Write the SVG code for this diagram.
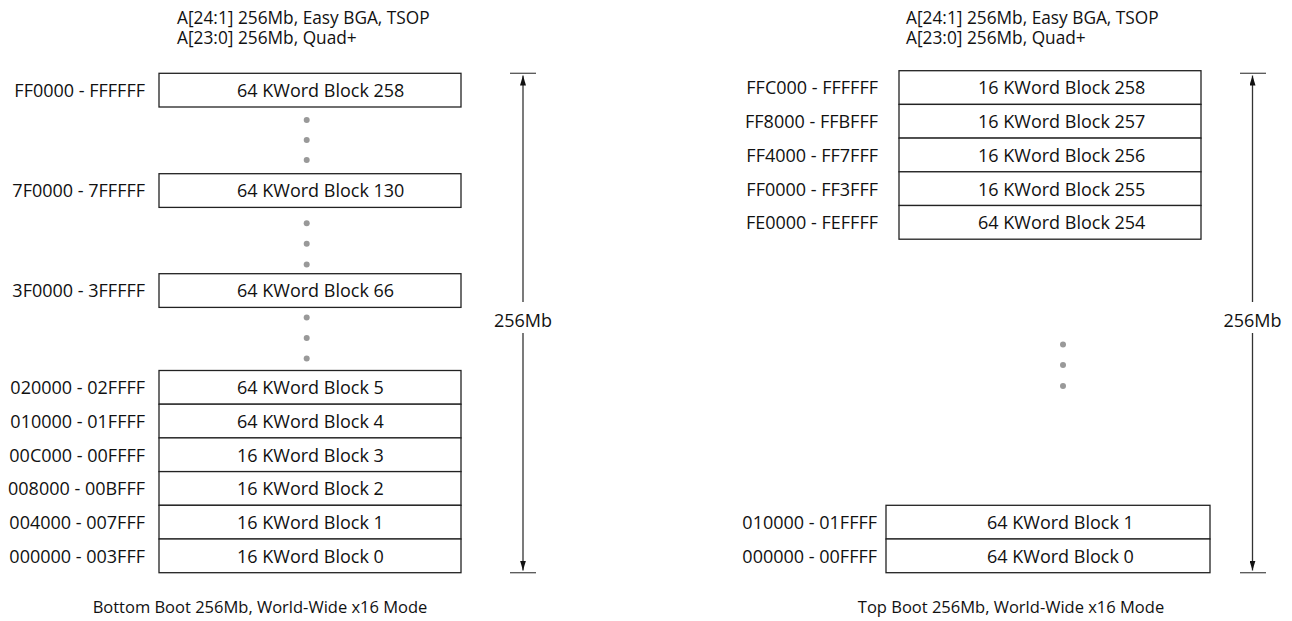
<svg xmlns="http://www.w3.org/2000/svg" width="1292" height="621" viewBox="0 0 1292 621">
<style>
text{font-family:"Open Sans","Noto Sans","DejaVu Sans",sans-serif;font-size:18px;fill:#111}
.addr{text-anchor:end}
.mid{text-anchor:middle}
.hdr{font-size:17.3px}
.cap{font-size:16.5px;text-anchor:middle}
.blk{fill:#fff;stroke:#222;stroke-width:1.3}
.dot{fill:#999}
.dim{stroke:#333;stroke-width:1.3;fill:none}
.tick{stroke:#555;stroke-width:1.3}
</style>
<defs>
<marker id="ah" viewBox="0 0 10 6" refX="10" refY="3" markerWidth="10" markerHeight="6" orient="auto-start-reverse" markerUnits="userSpaceOnUse">
<path d="M0,0 L10,3 L0,6 Z" fill="#111"/>
</marker>
</defs>

<g id="left-header">
<text class="hdr" x="177" y="23.5">A[24:1] 256Mb, Easy BGA, TSOP</text>
<text class="hdr" x="177" y="44">A[23:0] 256Mb, Quad+</text>
</g>
<g id="right-header">
<text class="hdr" x="906" y="23.5">A[24:1] 256Mb, Easy BGA, TSOP</text>
<text class="hdr" x="906" y="44">A[23:0] 256Mb, Quad+</text>
</g>

<g id="L-b258"><rect class="blk" x="159" y="73.3" width="302" height="33.7"/><text class="addr" x="145" y="97">FF0000 - FFFFFF</text><text x="237" y="97">64 KWord Block 258</text></g>
<g id="L-b130"><rect class="blk" x="159" y="173.7" width="302" height="33.7"/><text class="addr" x="145" y="197.3">7F0000 - 7FFFFF</text><text x="237" y="197.3">64 KWord Block 130</text></g>
<g id="L-b66"><rect class="blk" x="159" y="273.7" width="302" height="33.7"/><text class="addr" x="145" y="297.3">3F0000 - 3FFFFF</text><text x="237" y="297.3">64 KWord Block 66</text></g>
<g id="L-b5"><rect class="blk" x="159" y="370.5" width="302" height="33.7"/><text class="addr" x="145" y="394.2">020000 - 02FFFF</text><text x="237" y="394.2">64 KWord Block 5</text></g>
<g id="L-b4"><rect class="blk" x="159" y="404.2" width="302" height="33.7"/><text class="addr" x="145" y="427.9">010000 - 01FFFF</text><text x="237" y="427.9">64 KWord Block 4</text></g>
<g id="L-b3"><rect class="blk" x="159" y="437.9" width="302" height="33.7"/><text class="addr" x="145" y="461.6">00C000 - 00FFFF</text><text x="237" y="461.6">16 KWord Block 3</text></g>
<g id="L-b2"><rect class="blk" x="159" y="471.6" width="302" height="33.7"/><text class="addr" x="145" y="495.3">008000 - 00BFFF</text><text x="237" y="495.3">16 KWord Block 2</text></g>
<g id="L-b1"><rect class="blk" x="159" y="505.3" width="302" height="33.7"/><text class="addr" x="145" y="529">004000 - 007FFF</text><text x="237" y="529">16 KWord Block 1</text></g>
<g id="L-b0"><rect class="blk" x="159" y="539" width="302" height="33.7"/><text class="addr" x="145" y="562.7">000000 - 003FFF</text><text x="237" y="562.7">16 KWord Block 0</text></g>

<g id="L-dots">
<circle class="dot" cx="306.7" cy="120" r="3"/><circle class="dot" cx="306.7" cy="140" r="3"/><circle class="dot" cx="306.7" cy="160" r="3"/>
<circle class="dot" cx="306.7" cy="223.3" r="3"/><circle class="dot" cx="306.7" cy="243.7" r="3"/><circle class="dot" cx="306.7" cy="264.5" r="3"/>
<circle class="dot" cx="306.7" cy="317.5" r="3"/><circle class="dot" cx="306.7" cy="338" r="3"/><circle class="dot" cx="306.7" cy="358.5" r="3"/>
</g>

<g id="R-b258"><rect class="blk" x="899" y="70.7" width="302" height="33.7"/><text class="addr" x="878" y="94.4">FFC000 - FFFFFF</text><text x="978" y="94.4">16 KWord Block 258</text></g>
<g id="R-b257"><rect class="blk" x="899" y="104.4" width="302" height="33.7"/><text class="addr" x="878" y="128.1">FF8000 - FFBFFF</text><text x="978" y="128.1">16 KWord Block 257</text></g>
<g id="R-b256"><rect class="blk" x="899" y="138.1" width="302" height="33.7"/><text class="addr" x="878" y="161.8">FF4000 - FF7FFF</text><text x="978" y="161.8">16 KWord Block 256</text></g>
<g id="R-b255"><rect class="blk" x="899" y="171.8" width="302" height="33.7"/><text class="addr" x="878" y="195.5">FF0000 - FF3FFF</text><text x="978" y="195.5">16 KWord Block 255</text></g>
<g id="R-b254"><rect class="blk" x="899" y="205.5" width="302" height="33.7"/><text class="addr" x="878" y="229.2">FE0000 - FEFFFF</text><text x="978" y="229.2">64 KWord Block 254</text></g>
<g id="R-b1"><rect class="blk" x="886" y="505.3" width="324" height="33.7"/><text class="addr" x="877" y="529">010000 - 01FFFF</text><text x="987" y="529">64 KWord Block 1</text></g>
<g id="R-b0"><rect class="blk" x="886" y="539" width="324" height="33.7"/><text class="addr" x="877" y="562.7">000000 - 00FFFF</text><text x="987" y="562.7">64 KWord Block 0</text></g>

<g id="R-dots">
<circle class="dot" cx="1063" cy="344.5" r="3"/><circle class="dot" cx="1063" cy="365" r="3"/><circle class="dot" cx="1063" cy="386" r="3"/>
</g>

<g id="connectors">
<line class="tick" x1="510" y1="73.3" x2="536" y2="73.3"/>
<line class="tick" x1="510" y1="572.7" x2="536" y2="572.7"/>
<line class="dim" x1="523" y1="75.5" x2="523" y2="302" marker-start="url(#ah)"/>
<line class="dim" x1="523" y1="333" x2="523" y2="570.5" marker-end="url(#ah)"/>
<line class="tick" x1="1240" y1="73.3" x2="1266" y2="73.3"/>
<line class="tick" x1="1240" y1="572.7" x2="1266" y2="572.7"/>
<line class="dim" x1="1252.5" y1="75.5" x2="1252.5" y2="302" marker-start="url(#ah)"/>
<line class="dim" x1="1252.5" y1="333" x2="1252.5" y2="570.5" marker-end="url(#ah)"/>
</g>

<g id="dim-labels">
<text class="mid" x="523" y="327">256Mb</text>
<text class="mid" x="1252.5" y="327">256Mb</text>
</g>

<g id="captions">
<text class="cap" x="260" y="613">Bottom Boot 256Mb, World-Wide x16 Mode</text>
<text class="cap" x="1011" y="613">Top Boot 256Mb, World-Wide x16 Mode</text>
</g>
</svg>
